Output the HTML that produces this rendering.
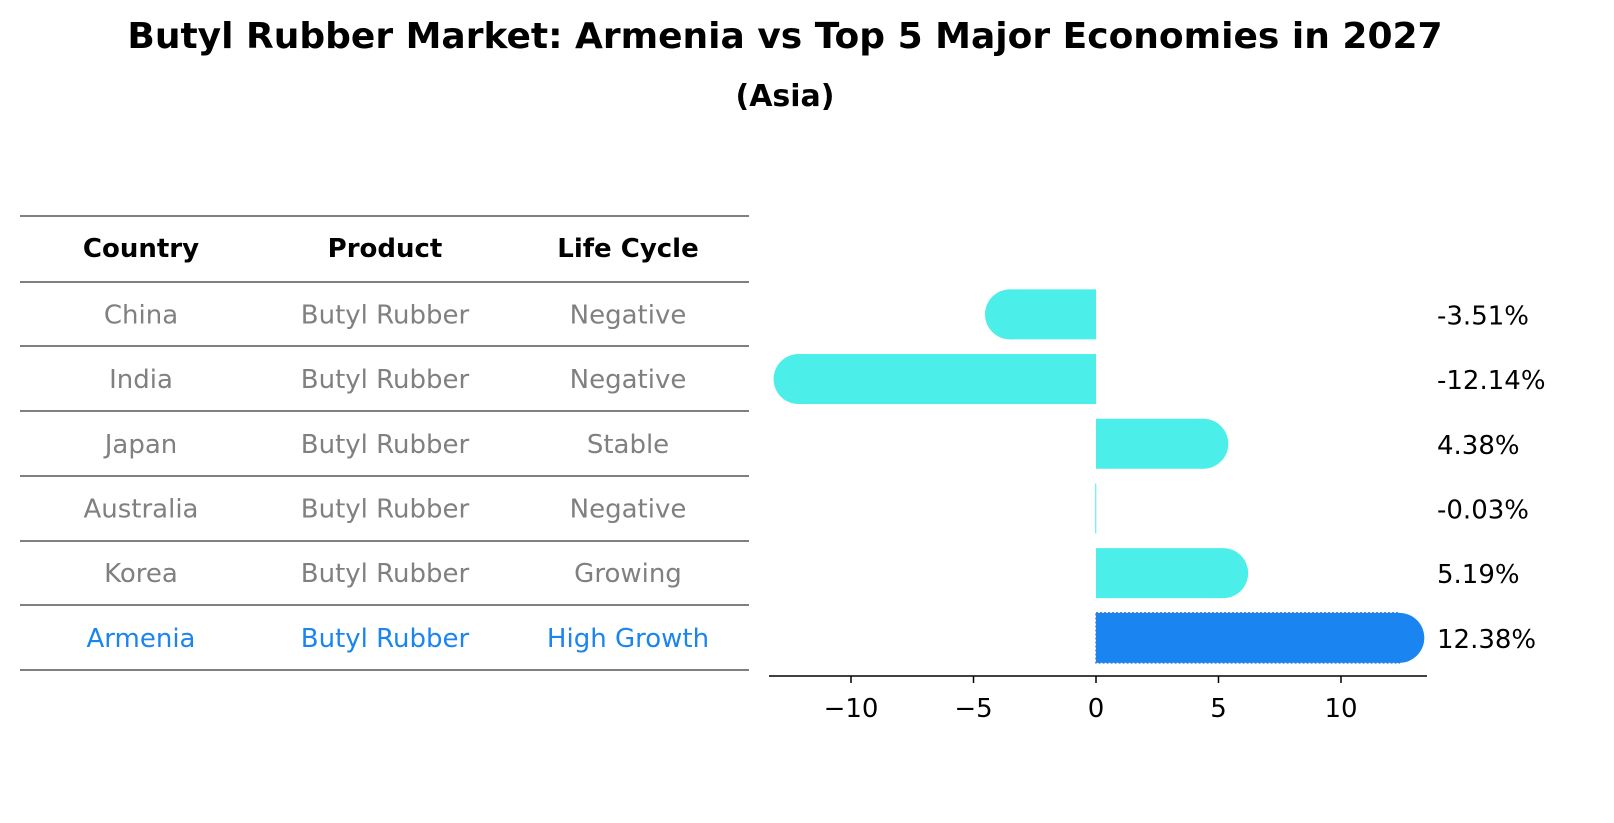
<!DOCTYPE html>
<html><head><meta charset="utf-8"><style>
body{margin:0;background:#fff;font-family:"Liberation Sans","DejaVu Sans",sans-serif}
#wrap{position:relative;width:1614px;height:823px;overflow:hidden}
.t{position:absolute;white-space:nowrap;line-height:1}
</style></head><body>
<div id="wrap">
<div class="t" style="left:0;width:1570px;text-align:center;top:19px;font-size:36px;font-weight:bold;font-family:'DejaVu Sans',sans-serif">Butyl Rubber Market: Armenia vs Top 5 Major Economies in 2027</div>
<div class="t" style="left:0;width:1570px;text-align:center;top:82px;font-size:30px;font-weight:bold;font-family:'DejaVu Sans',sans-serif">(Asia)</div>
<svg id="svg" width="1614" height="823" style="position:absolute;left:0;top:0" font-family="DejaVu Sans, sans-serif"></svg>
</div>
<script>
const countries=["China","India","Japan","Australia","Korea","Armenia"];
const products=["Butyl Rubber","Butyl Rubber","Butyl Rubber","Butyl Rubber","Butyl Rubber","Butyl Rubber"];
const lifeCycles=["Negative","Negative","Stable","Negative","Growing","High Growth"];
const growth=[-3.51,-12.14,4.38,-0.03,5.19,12.38];
const xTicks=[-10,-5,0,5,10];
const tickLabels=["\u221210","\u22125","0","5","10"];

const NS="http://www.w3.org/2000/svg";
const svg=document.getElementById('svg');
function mk(tag,attrs,parent){const e=document.createElementNS(NS,tag);for(const k in attrs)e.setAttribute(k,attrs[k]);(parent||svg).appendChild(e);return e;}
const x0=1096, pxPerUnit=24.5;
function xs(v){return x0+v*pxPerUnit;}
const rowTop=282, rowH=64.7;
function yc(i){return rowTop+rowH*(i+0.5);}

const lines=[216,282,346,411,476,541,605,670];
lines.forEach((y,i)=>{const l=mk('line',{x1:20,x2:749,y1:y,y2:y,stroke:'#000','stroke-width':1});

});
const colX=[141,385,628];
["Country","Product","Life Cycle"].forEach((h,j)=>{const t=mk('text',{x:colX[j],y:257,'text-anchor':'middle','font-size':26,'font-weight':'bold',fill:'#000'});t.textContent=h;

});
countries.forEach((c,i)=>{
  const col=i===countries.length-1?'#1a85f0':'#808080';
  [c,products[i],lifeCycles[i]].forEach((v,j)=>{
    const t=mk('text',{x:colX[j],y:yc(i)+9,'text-anchor':'middle','font-size':26,fill:col});t.textContent=v;
    
    
  });
});

const bh=50, r=25;
growth.forEach((v,i)=>{
  const hi=i===growth.length-1;
  const fill=hi?'#1a85f0':'#4beee9';
  const g=mk('g',{});
  
  
  const a=Math.min(xs(0),xs(v)), w=Math.abs(xs(v)-xs(0));
  const rectAttrs={x:a,y:yc(i)-bh/2,width:Math.max(w,1),height:bh,fill:fill};
  if(hi){rectAttrs.stroke='#3a7ad8';rectAttrs['stroke-width']=1.5;rectAttrs['stroke-dasharray']='2,2';}
  mk('rect',rectAttrs,g);
  if(Math.abs(v)>0.1) mk('circle',{cx:xs(v),cy:yc(i),r:r,fill:fill},g);
  const t=mk('text',{x:1437,y:yc(i)+10,'font-size':26,fill:'#000'});
  t.textContent=v.toFixed(2)+'%';
  
  
});

const ax=mk('line',{x1:769,x2:1427,y1:676,y2:676,stroke:'#000','stroke-width':1.5});


xTicks.forEach((v,i)=>{
  mk('line',{x1:xs(v),x2:xs(v),y1:676,y2:683,stroke:'#000','stroke-width':1.5});
  const t=mk('text',{x:xs(v),y:717,'text-anchor':'middle','font-size':26,fill:'#000'});
  t.textContent=tickLabels[i];
  
  
});
</script>
</body></html>
